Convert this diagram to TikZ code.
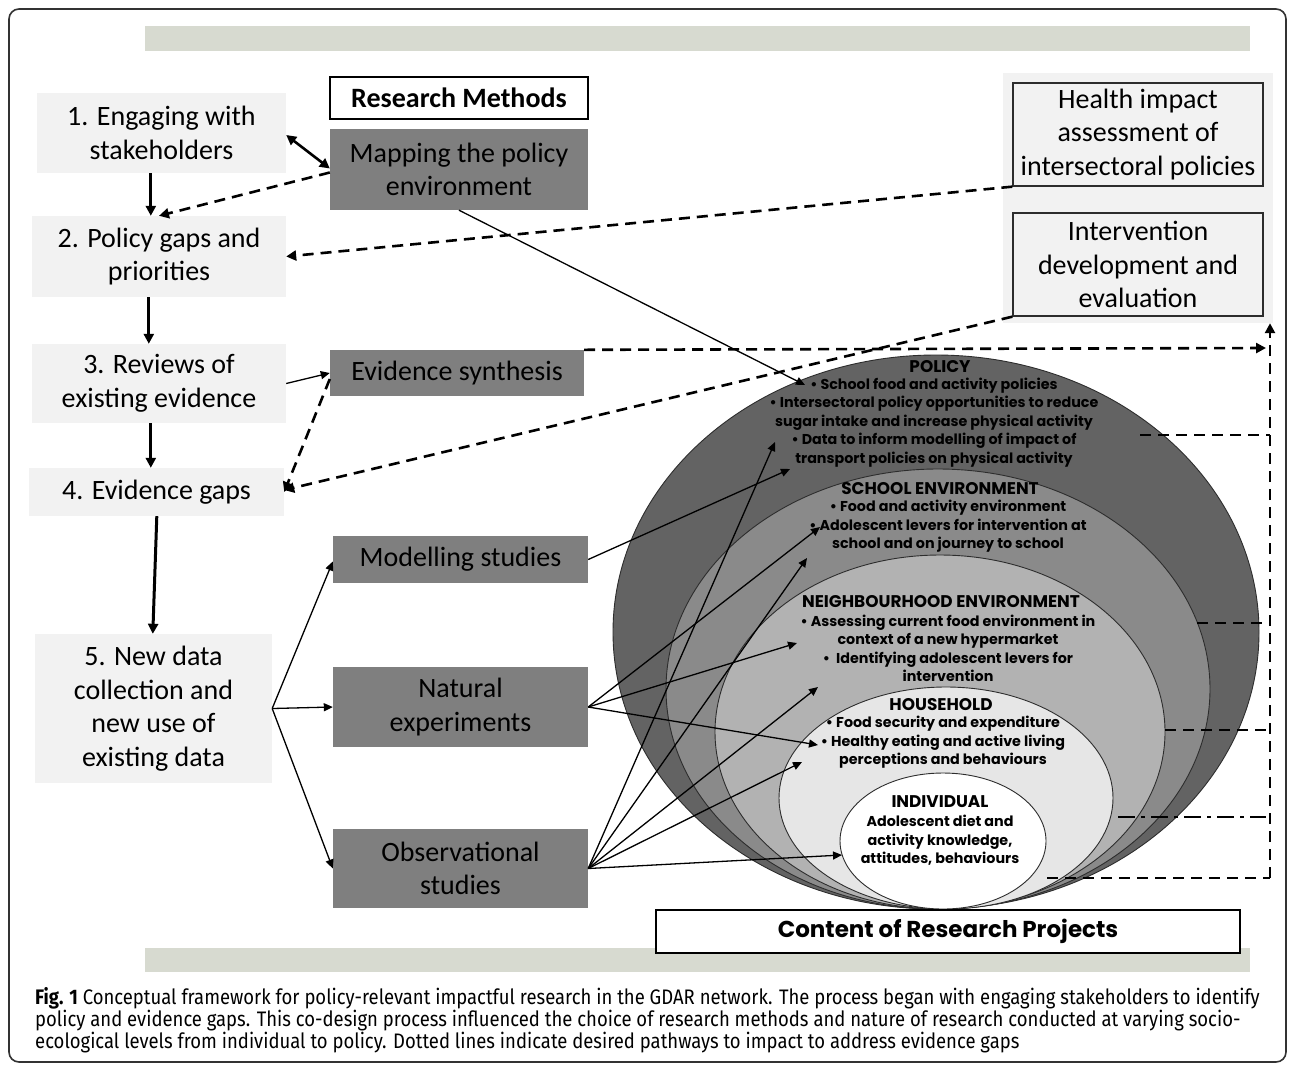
\documentclass[tikz,border=0pt]{standalone}
\usepackage{fontspec}
\setmainfont{Carlito}
\newfontfamily\geo{Poppins}
\newfontfamily\capf{Fira Sans}[FakeStretch=0.88]
\usetikzlibrary{arrows.meta,shapes.geometric}
\definecolor{lightg}{RGB}{242,242,242}
\definecolor{darkbox}{RGB}{127,127,127}
\definecolor{barc}{RGB}{215,218,208}
\definecolor{lvA}{RGB}{99,99,99}
\definecolor{lvB}{RGB}{138,138,138}
\definecolor{lvC}{RGB}{178,178,178}
\definecolor{lvD}{RGB}{230,230,230}
\definecolor{framec}{RGB}{50,50,50}
\definecolor{edgec}{RGB}{45,45,45}
\begin{document}
\begin{tikzpicture}[x=1pt,y=-1pt,
  stepbox/.style={fill=lightg, inner sep=0pt, align=center, font=\fontsize{28}{33.5}\selectfont},
  methodbox/.style={fill=darkbox, inner sep=0pt, align=center, font=\fontsize{28}{33.5}\selectfont},
  outbox/.style={fill=lightg, draw=edgec, line width=1.3pt, inner sep=0pt, align=center, font=\fontsize{28}{33.5}\selectfont},
  level/.style={ellipse, draw=edgec, line width=0.9pt, inner sep=0pt},
  ttl/.style={font=\geo\bfseries\fontsize{16.9}{18}\selectfont, inner sep=0pt},
  body/.style={font=\geo\bfseries\fontsize{14.3}{18.4}\selectfont, align=center, inner sep=0pt},
  flow/.style={line width=3pt, -{Triangle[length=10pt,width=10pt]}},
  thinarr/.style={line width=1.3pt, -{Triangle[length=9pt,width=8pt]}},
  dasharr/.style={line width=2.6pt, dash pattern=on 11pt off 7pt, -{Triangle[length=10pt,width=10pt]}},
  dashline/.style={line width=2.6pt, dash pattern=on 11pt off 7pt},
]
\useasboundingbox (0,0) rectangle (1295,1069);
\fill[white] (0,0) rectangle (1295,1069);
\draw[framec, line width=1.6pt, rounded corners=10pt] (9,9) rectangle (1286,1062);
\fill[barc] (145,26) rectangle (1250,51);
\fill[barc] (145,948) rectangle (1250,972);

% right panel
\node[fill=lightg, minimum width=270pt, minimum height=250pt, inner sep=0pt] (panel) at (1138,198) {};
\node[outbox, minimum width=250pt, minimum height=103pt] (hia) at (1138,134.5) {Health impact\\assessment of\\intersectoral policies};
\node[outbox, minimum width=250pt, minimum height=103pt] (ide) at (1138,264.5) {Intervention\\development and\\evaluation};

% left steps
\node[stepbox, minimum width=249pt, minimum height=80pt] (b1) at (161.5,133) {1. Engaging with\\stakeholders};
\node[stepbox, minimum width=254pt, minimum height=81pt] (b2) at (159,256.5) {2. Policy gaps and\\priorities};
\node[stepbox, minimum width=254pt, minimum height=79pt] (b3) at (159,383.5) {3. Reviews of\\existing evidence};
\node[stepbox, minimum width=255pt, minimum height=48pt] (b4) at (156.5,492) {4. Evidence gaps};
\node[stepbox, minimum width=237pt, minimum height=149pt] (b5) at (153.5,708.5) {5. New data\\collection and\\new use of\\existing data};

% methods
\node[draw=black, line width=1.3pt, fill=white, minimum width=258pt, minimum height=42pt, inner sep=0pt, font=\bfseries\fontsize{28}{30}\selectfont] (rm) at (459,98) {Research Methods};
\node[methodbox, minimum width=258pt, minimum height=81pt] (map) at (459,169.5) {Mapping the policy\\environment};
\node[methodbox, minimum width=254pt, minimum height=46pt] (evs) at (457,373) {Evidence synthesis};
\node[methodbox, minimum width=255pt, minimum height=47pt] (mod) at (460.5,559.5) {Modelling studies};
\node[methodbox, minimum width=255pt, minimum height=80pt] (nat) at (460.5,707) {Natural\\experiments};
\node[methodbox, minimum width=255pt, minimum height=79pt] (obs) at (460.5,868.5) {Observational\\studies};

% levels
\node[level, fill=lvA, minimum width=646pt, minimum height=554pt] (policy) at (936,632) {};
\node[level, fill=lvB, minimum width=544pt, minimum height=440pt] (school) at (938,689) {};
\node[level, fill=lvC, minimum width=450pt, minimum height=354pt] (neigh) at (940,732) {};
\node[level, fill=lvD, minimum width=334pt, minimum height=222pt] (house) at (946,798) {};
\node[level, fill=white, minimum width=206pt, minimum height=136pt] (indiv) at (943,841) {};

\node[ttl] (tpol) at (940,367) {POLICY};
\node[body] (bpol) at (934,422.5) {\textbullet\ School food and activity policies\\\textbullet\ Intersectoral policy opportunities to reduce\\sugar intake and increase physical activity\\\textbullet\ Data to inform modelling of impact of\\transport policies on physical activity};
\node[ttl] (tsch) at (940,489) {SCHOOL ENVIRONMENT};
\node[body] (bsch) at (948,526.5) {\textbullet\ Food and activity environment\\\textbullet\ Adolescent levers for intervention at\\school and on journey to school};
\node[ttl] (tnei) at (941,602) {NEIGHBOURHOOD ENVIRONMENT};
\node[body] (bnei) at (948,648.5) {\textbullet\ Assessing current food environment in\\context of a new hypermarket\\\textbullet\ \ Identifying adolescent levers for\\intervention};
\node[ttl] (thou) at (941,705) {HOUSEHOLD};
\node[body] (bhou) at (943,742.5) {\textbullet\ Food security and expenditure\\\textbullet\ Healthy eating and active living\\perceptions and behaviours};
\node[ttl] (tind) at (940,802) {INDIVIDUAL};
\node[body] (bind) at (940,840.5) {Adolescent diet and\\activity knowledge,\\attitudes, behaviours};

% arrow targets in the levels
\coordinate (tMap) at (805,385);
\coordinate (tPolA) at (775,442);
\coordinate (tPolB) at (790,469);
\coordinate (tSchA) at (820,527);
\coordinate (tSchB) at (807,558);
\coordinate (tNeiA) at (797,643);
\coordinate (tNeiB) at (818,687);
\coordinate (tHouA) at (818,745);
\coordinate (tHouB) at (802,762);
\coordinate (tInd) at (842,855);

% left flow
\draw[flow] ([xshift=114pt]b1.south west) -- ([xshift=119pt]b2.north west);
\draw[flow] ([xshift=117pt]b2.south west) -- ([xshift=117pt]b3.north west);
\draw[flow] ([xshift=119pt]b3.south west) -- ([xshift=122pt]b4.north west);
\draw[flow] ([xshift=128pt]b4.south west) -- ([xshift=118pt]b5.north west);
\draw[line width=2.6pt, {Triangle[length=10pt,width=10pt]}-{Triangle[length=10pt,width=10pt]}] ([yshift=-2pt]b1.east) -- ([yshift=1pt]map.west);
\draw[dasharr] ([yshift=-3pt]map.west) -- (b2.north);
\draw[thinarr] (b3.east) -- (evs.west);
\draw[dasharr] ([yshift=-6pt]evs.west) -- (b4.east);
\draw[dasharr] (hia.south west) -- (b2.east);
\draw[dasharr] (ide.south west) -- ([yshift=2pt]b4.east);

% fan from 5
\draw[thinarr] (b5.east) -- ([yshift=-2pt]mod.west);
\draw[thinarr] (b5.east) -- (nat.west);
\draw[thinarr] (b5.east) -- (obs.west);

% methods to levels
\draw[thinarr] (map.south) -- (tMap);
\draw[thinarr] (mod.east) -- (tPolB);
\draw[thinarr] (nat.east) -- (tSchA);
\draw[thinarr] (nat.east) -- (tNeiA);
\draw[thinarr] (nat.east) -- (tHouA);
\draw[thinarr] (obs.east) -- (tPolA);
\draw[thinarr] (obs.east) -- (tSchB);
\draw[thinarr] (obs.east) -- (tNeiB);
\draw[thinarr] (obs.east) -- (tHouB);
\draw[thinarr] (obs.east) -- (tInd);

% impact pathways on the right
\coordinate (vbot) at (1270,878);
\coordinate (hEnd) at (1266,348);
\coordinate (sPol) at (1140,435);
\coordinate (sSch) at (1197,623);
\coordinate (sNei) at (1165,730);
\coordinate (sHou) at (1118,817);
\coordinate (sInd) at (1047,878);
\draw[dasharr] (vbot) -- (vbot |- panel.south);
\draw[dasharr] (evs.north east) -- (hEnd);
\draw[dashline] (sPol) -- (sPol -| vbot);
\draw[dashline] (sSch) -- (sSch -| vbot);
\draw[dashline] (sNei) -- (sNei -| vbot);
\draw[line width=2.6pt, dash pattern=on 17pt off 6pt on 4pt off 6pt] (sHou) -- ([xshift=-4pt]sHou -| vbot);
\draw[dashline] (sInd) -- (vbot);

% bottom label
\node[draw=black, line width=1.3pt, fill=white, minimum width=584pt, minimum height=43pt, inner sep=0pt, font=\geo\bfseries\fontsize{23}{26}\selectfont] (crp) at (948,931.5) {Content of Research Projects};

% caption
\node[anchor=west, inner sep=0pt, font=\capf\fontsize{21}{24}\selectfont] (cap1) at (35,998) {\textbf{Fig. 1} Conceptual framework for policy-relevant impactful research in the GDAR network. The process began with engaging stakeholders to identify};
\node[anchor=west, inner sep=0pt, font=\capf\fontsize{21}{24}\selectfont] (cap2) at (35,1020.5) {policy and evidence gaps. This co-design process influenced the choice of research methods and nature of research conducted at varying socio-};
\node[anchor=west, inner sep=0pt, font=\capf\fontsize{21}{24}\selectfont] (cap3) at (35,1043) {ecological levels from individual to policy. Dotted lines indicate desired pathways to impact to address evidence gaps};
\end{tikzpicture}
\end{document}
